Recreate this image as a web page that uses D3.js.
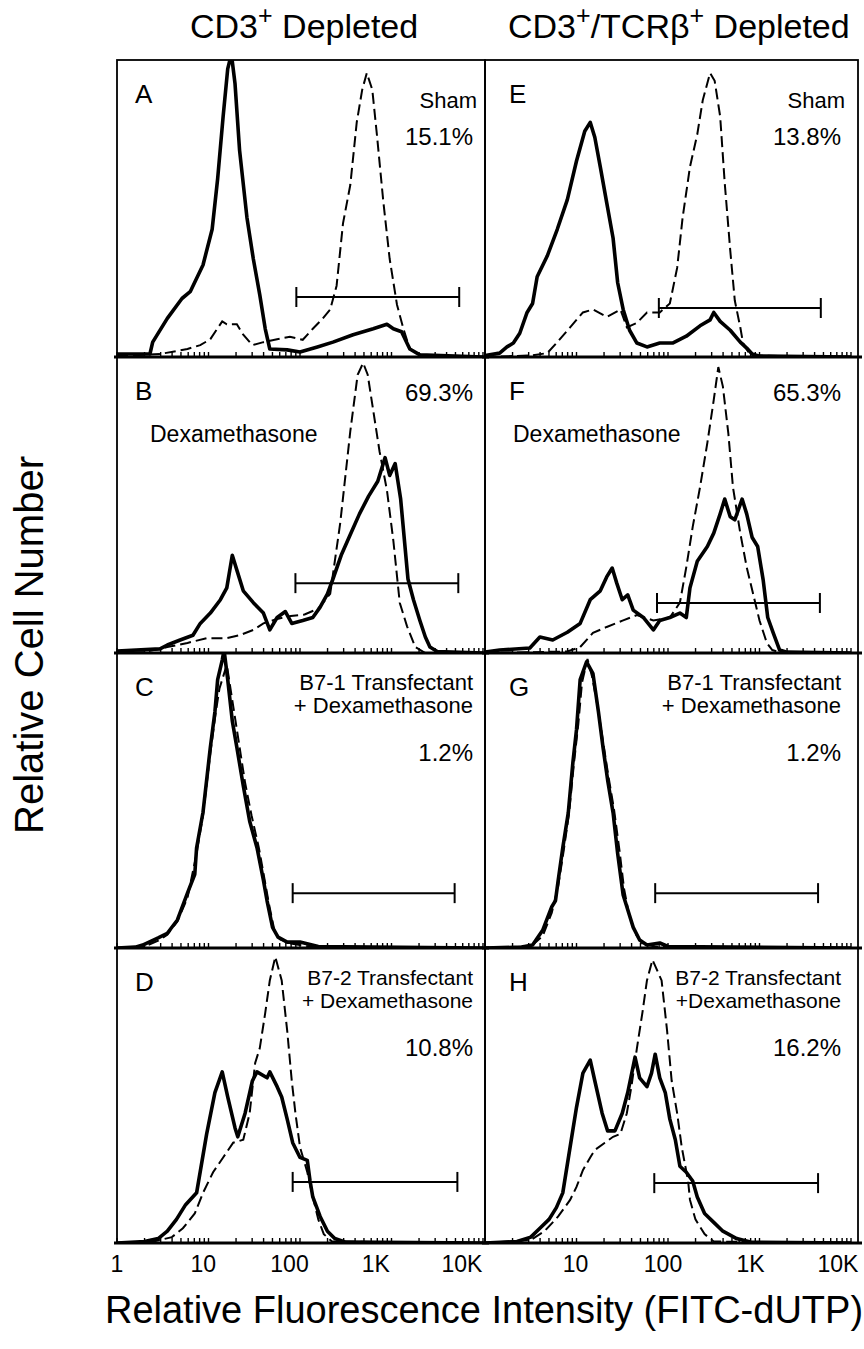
<!DOCTYPE html>
<html>
<head>
<meta charset="utf-8">
<script src="https://cdn.jsdelivr.net/npm/d3@7"></script>
<style>
  body { margin: 0; background: #fff; }
  svg text { font-family: "Liberation Sans", Arial, Helvetica, sans-serif; fill: #000; }
</style>
</head>
<body>
<div id="chart"></div>
<script>
// each point: [log10 fluorescence intensity, relative cell number in % of panel height]
const solidA = [[0,1],[0.36,1],[0.39,5],[0.55,13],[0.71,19.7],[0.8,22],[0.94,31],[1.04,43],[1.1,60],[1.16,81],[1.21,97],[1.25,102],[1.29,92],[1.34,69.5],[1.42,47],[1.49,33],[1.56,21],[1.62,9.5],[1.67,2.7],[1.86,2.4],[2.0,1.7],[2.19,3.4],[2.36,5],[2.58,7.5],[2.8,9.5],[2.95,11],[3.02,9.5],[3.11,8.5],[3.2,2.7],[3.31,0.7],[4,0]];
const dashedA = [[0,0.3],[0.47,1],[0.77,2.7],[0.91,4],[1.02,6],[1.15,12],[1.2,11],[1.31,11],[1.38,7.5],[1.48,4],[1.6,5],[1.75,6],[1.89,6.8],[2.03,5.8],[2.14,9.5],[2.25,13],[2.33,16],[2.4,24],[2.47,45],[2.55,58],[2.62,79],[2.68,90],[2.73,95.6],[2.79,90],[2.84,75],[2.91,52.5],[2.98,33],[3.06,17.6],[3.13,9.5],[3.2,2.7],[3.31,0.7],[4,0]];

const solidB = [[0,0.7],[0.47,1.4],[0.55,2.7],[0.69,4.4],[0.83,6],[0.91,10],[1.02,13.5],[1.13,18],[1.2,22],[1.26,33],[1.31,28],[1.38,21],[1.49,17],[1.6,13.5],[1.67,7.8],[1.75,12],[1.84,14],[1.91,10],[2.03,11],[2.14,12],[2.22,15.5],[2.3,20],[2.36,25],[2.45,33],[2.55,40],[2.65,47],[2.75,53],[2.85,58],[2.93,66],[2.98,60],[3.04,64],[3.1,52],[3.18,25],[3.24,18],[3.31,11],[3.37,5.4],[3.42,2],[3.5,0.5],[4,0]];
const dashedB = [[0,0],[0.3,0.3],[0.55,2],[0.77,3.4],[0.98,5],[1.2,5],[1.34,6],[1.49,7.8],[1.6,10],[1.75,11.5],[1.9,12.5],[2.05,13],[2.2,15],[2.33,20],[2.44,44],[2.55,75],[2.63,94],[2.69,98],[2.74,94],[2.8,82],[2.87,68],[2.95,55],[3.02,38],[3.09,17],[3.17,9],[3.26,2],[3.37,0],[4,0]];

const solidC = [[0,0],[0.2,0.3],[0.28,1],[0.45,3.4],[0.55,5],[0.66,9.5],[0.77,18.6],[0.85,25],[0.87,34],[0.94,46],[1.02,68],[1.07,80],[1.1,91],[1.15,97.6],[1.17,101],[1.21,91],[1.26,77],[1.31,68],[1.38,55],[1.45,43],[1.53,34],[1.6,23],[1.64,16],[1.7,7],[1.76,3.7],[1.86,2],[2.0,2],[2.2,0.5],[4,0]];
const dashedC = [[0,0],[0.3,0.5],[0.45,2.5],[0.55,4.5],[0.66,9],[0.77,17],[0.87,32],[0.94,45],[1.02,66],[1.08,80],[1.12,88],[1.16,92],[1.2,96],[1.24,88],[1.28,80],[1.33,70],[1.4,56],[1.47,45],[1.55,34],[1.62,22],[1.66,15],[1.72,6],[1.78,3],[1.9,1.5],[2.1,0.5],[4,0]];

const solidD = [[0,0],[0.3,0.5],[0.45,1.5],[0.55,4],[0.65,8],[0.75,13],[0.87,17],[0.98,37],[1.07,51],[1.15,58],[1.21,49.5],[1.29,39],[1.32,36],[1.4,44],[1.48,55],[1.53,58],[1.64,56],[1.67,58],[1.75,53],[1.8,49.5],[1.86,42],[1.92,34],[2.0,29],[2.08,28],[2.11,21],[2.14,15.6],[2.22,9],[2.3,4],[2.38,1.5],[2.5,0.3],[4,0]];
const dashedD = [[0,0],[0.4,0.5],[0.6,2],[0.72,5],[0.85,10],[0.94,17],[1.05,24],[1.16,29],[1.27,34],[1.38,35],[1.45,44],[1.51,61],[1.56,66],[1.62,78],[1.67,89],[1.73,97],[1.8,89],[1.86,72],[1.91,55],[1.95,44],[2.0,32.5],[2.08,24],[2.14,15.6],[2.2,8],[2.26,3],[2.35,0.5],[4,0]];

const solidE = [[0,0.5],[0.16,1.3],[0.24,3.4],[0.31,4.7],[0.38,8],[0.46,15],[0.52,18],[0.57,27],[0.68,34],[0.79,43],[0.9,53],[1.0,66],[1.09,76],[1.15,79],[1.2,74],[1.26,64],[1.33,52],[1.4,40],[1.45,25],[1.51,16],[1.58,9],[1.66,4.7],[1.77,3.4],[1.91,4.7],[2.05,4.7],[2.2,7],[2.35,10.5],[2.46,12.5],[2.5,15],[2.57,12],[2.68,9],[2.79,5],[2.86,3],[2.92,1],[3.0,0.3],[4,0]];
const dashedE = [[0,0],[0.5,0.5],[0.68,1.3],[0.79,5],[0.93,10],[1.07,15],[1.18,16],[1.33,13.5],[1.48,16],[1.55,10],[1.66,11.5],[1.77,15],[1.91,15],[2.02,18],[2.1,30],[2.16,47],[2.24,64],[2.32,75],[2.38,86.5],[2.46,95.6],[2.51,93],[2.57,81],[2.62,58.6],[2.68,36],[2.73,19],[2.79,10],[2.82,4.7],[2.9,0.5],[4,0]];

const solidF = [[0,0.3],[0.16,1],[0.49,1.7],[0.6,5.4],[0.74,4.4],[0.9,7],[1.04,10],[1.15,18],[1.26,21],[1.33,25.7],[1.39,28.7],[1.44,23.6],[1.5,18],[1.56,19.6],[1.62,14.5],[1.73,12],[1.84,7.8],[1.91,11],[2.02,12],[2.13,13.5],[2.2,12],[2.24,22],[2.32,31],[2.43,36],[2.5,40.5],[2.57,47],[2.62,52],[2.68,46],[2.73,45],[2.81,52],[2.86,47],[2.92,39],[2.98,36],[3.04,24.7],[3.09,12],[3.15,6.8],[3.22,1],[3.3,0.3],[4,0]];
const dashedF = [[0,0],[0.9,0.5],[1.04,2],[1.18,6.8],[1.33,8.8],[1.51,11],[1.66,12.8],[1.84,11],[2.02,12],[2.13,17],[2.2,29],[2.27,42.6],[2.35,56],[2.43,71],[2.5,85.5],[2.55,96.6],[2.6,90],[2.66,74],[2.71,56],[2.79,40.5],[2.86,29],[2.93,20],[3.0,11],[3.08,3.4],[3.14,1],[3.25,0],[4,0]];

const solidG = [[0,0],[0.4,0.3],[0.52,1],[0.63,6],[0.73,14],[0.77,16],[0.8,23],[0.85,34],[0.91,45.8],[0.96,62.7],[1.0,74],[1.04,91],[1.11,97],[1.18,93],[1.24,80],[1.29,68],[1.34,57],[1.4,45.8],[1.45,32],[1.51,18],[1.55,14],[1.62,7],[1.69,2.7],[1.77,1],[1.91,1.7],[2.0,0.5],[4,0]];
const dashedG = [[0,0],[0.5,0.5],[0.63,4],[0.73,12],[0.8,21],[0.86,33],[0.92,46],[0.97,62],[1.02,76],[1.06,90],[1.12,98],[1.17,92],[1.23,82],[1.29,70],[1.35,58],[1.41,47],[1.47,33],[1.52,20],[1.57,12],[1.64,5],[1.72,1.5],[1.85,0.5],[4,0]];

const solidH = [[0,0],[0.35,0.5],[0.5,2],[0.6,5],[0.7,8],[0.78,12],[0.85,17],[0.93,32.5],[1.0,46],[1.07,57.6],[1.15,62],[1.2,55],[1.28,44],[1.34,38],[1.42,38],[1.5,44],[1.56,51],[1.64,63],[1.69,56],[1.77,53],[1.82,57.6],[1.86,64],[1.91,56],[1.97,51],[2.02,42],[2.08,35],[2.13,26],[2.2,24],[2.27,21],[2.32,15.6],[2.4,10],[2.5,7],[2.6,4],[2.75,1.5],[2.9,0.3],[4,0]];
const dashedH = [[0,0],[0.5,1],[0.65,4],[0.8,9],[0.93,14.6],[1.0,19],[1.07,24.7],[1.15,29],[1.2,31.5],[1.31,34],[1.4,36],[1.48,37],[1.55,44],[1.6,53],[1.66,66],[1.72,78],[1.77,89],[1.83,96],[1.93,89],[1.99,72],[2.04,55],[2.1,44],[2.15,32.5],[2.22,21],[2.24,14.6],[2.3,8],[2.4,3],[2.5,0.5],[4,0]];

// gate marker: [low log10, high log10, height %]
const gates = {
  A: [1.96, 3.74, 20.2], B: [1.95, 3.73, 23.6], C: [1.92, 3.69, 18.6], D: [1.92, 3.72, 20.7],
  E: [1.9, 3.67, 16.5], F: [1.88, 3.66, 16.9], G: [1.86, 3.64, 18.6], H: [1.85, 3.64, 20.3]
};

const percents = { A: '15.1%', B: '69.3%', C: '1.2%', D: '10.8%', E: '13.8%', F: '65.3%', G: '1.2%', H: '16.2%' };
const conditions = {
  A: ['Sham'], E: ['Sham'],
  B: ['Dexamethasone'], F: ['Dexamethasone'],
  C: ['B7-1 Transfectant', '+ Dexamethasone'], G: ['B7-1 Transfectant', '+ Dexamethasone'],
  D: ['B7-2 Transfectant', '+ Dexamethasone'], H: ['B7-2 Transfectant', '+Dexamethasone']
};
const tickValues = [[1, 10, 100, 1000, 10000], [10, 100, 1000, 10000]];
const tickNames = [['1', '10', '100', '1K', '10K'], ['10', '100', '1K', '10K']];

const curves = {
  A: [solidA, dashedA], B: [solidB, dashedB], C: [solidC, dashedC], D: [solidD, dashedD],
  E: [solidE, dashedE], F: [solidF, dashedF], G: [solidG, dashedG], H: [solidH, dashedH]
};
const letters = ['A', 'B', 'C', 'D', 'E', 'F', 'G', 'H'];

// layout
const width = 864, height = 1349;
const colBox = [[117, 485], [485, 858]];
const colAxis = [[117, 483], [485, 851]];
const colLabels = [[117, 462], [488, 838]]; // printed decade labels sit a bit tighter
const rowY = [60, 357, 653, 948, 1243];

const svg = d3.select('#chart').append('svg')
  .attr('width', width)
  .attr('height', height);

const xs = colAxis.map(r => d3.scaleLog().domain([1, 10000]).range(r));
const xl = colLabels.map(r => d3.scaleLog().domain([1, 10000]).range(r));

letters.forEach((id, i) => {
  const col = Math.floor(i / 4), row = i % 4;
  const [pl, pr] = colBox[col];
  const pt = rowY[row], pb = rowY[row + 1];
  const x = xs[col];
  const y = d3.scaleLinear().domain([0, 100]).range([pb, pt]);
  const g = svg.append('g');

  g.append('clipPath').attr('id', 'clip' + id)
    .append('rect').attr('x', pl).attr('y', pt).attr('width', pr - pl).attr('height', pb - pt);

  // frame
  g.append('rect')
    .attr('x', pl).attr('y', pt)
    .attr('width', pr - pl).attr('height', pb - pt)
    .attr('fill', 'none').attr('stroke', '#000').attr('stroke-width', 1.8);

  const line = d3.line()
    .x(d => x(Math.pow(10, d[0])))
    .y(d => y(d[1]));

  const [solid, dashed] = curves[id];
  g.append('path').datum(dashed)
    .attr('clip-path', `url(#clip${id})`)
    .attr('d', line)
    .attr('fill', 'none').attr('stroke', '#000')
    .attr('stroke-width', 2).attr('stroke-dasharray', '11,5');
  g.append('path').datum(solid)
    .attr('clip-path', `url(#clip${id})`)
    .attr('d', line)
    .attr('fill', 'none').attr('stroke', '#000')
    .attr('stroke-width', 3.6).attr('stroke-linejoin', 'round');

  // baseline with log minor ticks
  g.append('line')
    .attr('x1', pl - 3).attr('x2', pr + 4)
    .attr('y1', pb).attr('y2', pb)
    .attr('stroke', '#000').attr('stroke-width', 3);
  g.append('g')
    .selectAll('line')
    .data(x.ticks())
    .join('line')
    .attr('x1', d => x(d)).attr('x2', d => x(d))
    .attr('y1', pb).attr('y2', pb - 5)
    .attr('stroke', '#000').attr('stroke-width', 1.4);

  // gate marker
  const [glo, ghi, gh] = gates[id];
  const gy = y(gh);
  const gx1 = x(Math.pow(10, glo)), gx2 = x(Math.pow(10, ghi));
  g.append('line').attr('x1', gx1).attr('x2', gx2).attr('y1', gy).attr('y2', gy)
    .attr('stroke', '#000').attr('stroke-width', 2);
  [gx1, gx2].forEach(gx => {
    g.append('line').attr('x1', gx).attr('x2', gx).attr('y1', gy - 10).attr('y2', gy + 10)
      .attr('stroke', '#000').attr('stroke-width', 2);
  });

  // texts
  g.append('text').attr('x', pl + (col ? 24 : 18)).attr('y', pt + 43)
    .style('font-size', '26px').text(id);

  const rx = col ? pr - 17 : pr - 12;
  const cond = conditions[id];
  if (row === 0) {
    g.append('text').attr('x', rx + 4).attr('y', pt + 48).attr('text-anchor', 'end')
      .style('font-size', '22px').text(cond[0]);
    g.append('text').attr('x', rx).attr('y', pt + 85).attr('text-anchor', 'end')
      .style('font-size', '24px').text(percents[id]);
  } else if (row === 1) {
    g.append('text').attr('x', rx).attr('y', pt + 44).attr('text-anchor', 'end')
      .style('font-size', '24px').text(percents[id]);
    g.append('text').attr('x', pl + (col ? 28 : 33)).attr('y', pt + 85)
      .style('font-size', '23px').text(cond[0]);
  } else {
    const fs = row === 2 ? 22 : 21;
    cond.forEach((t, k) => {
      g.append('text').attr('x', rx).attr('y', pt + 37 + k * 23).attr('text-anchor', 'end')
        .style('font-size', fs + 'px').text(t);
    });
    g.append('text').attr('x', rx).attr('y', pt + 108).attr('text-anchor', 'end')
      .style('font-size', '24px').text(percents[id]);
  }
});

// tick labels
tickValues.forEach((vals, c) => {
  svg.append('g')
    .selectAll('text')
    .data(vals)
    .join('text')
    .attr('x', d => xl[c](d))
    .attr('y', 1272)
    .attr('text-anchor', 'middle')
    .style('font-size', '23px')
    .text((d, i) => tickNames[c][i]);
});

// column headers
const h1 = svg.append('text').attr('x', 190).attr('y', 38).style('font-size', '34px');
h1.append('tspan').text('CD3');
h1.append('tspan').attr('baseline-shift', 'super').style('font-size', '25px').text('+');
h1.append('tspan').text(' Depleted');

const h2 = svg.append('text').attr('x', 508).attr('y', 38).style('font-size', '34px');
h2.append('tspan').text('CD3');
h2.append('tspan').attr('baseline-shift', 'super').style('font-size', '25px').text('+');
h2.append('tspan').text('/TCRβ');
h2.append('tspan').attr('baseline-shift', 'super').style('font-size', '25px').text('+');
h2.append('tspan').text(' Depleted');

// axis titles
svg.append('text')
  .attr('transform', `translate(43,645) rotate(-90)`)
  .attr('text-anchor', 'middle')
  .style('font-size', '40px')
  .text('Relative Cell Number');

svg.append('text')
  .attr('x', 484)
  .attr('y', 1323)
  .attr('text-anchor', 'middle')
  .style('font-size', '38px')
  .text('Relative Fluorescence Intensity (FITC-dUTP)');
</script>
</body>
</html>
